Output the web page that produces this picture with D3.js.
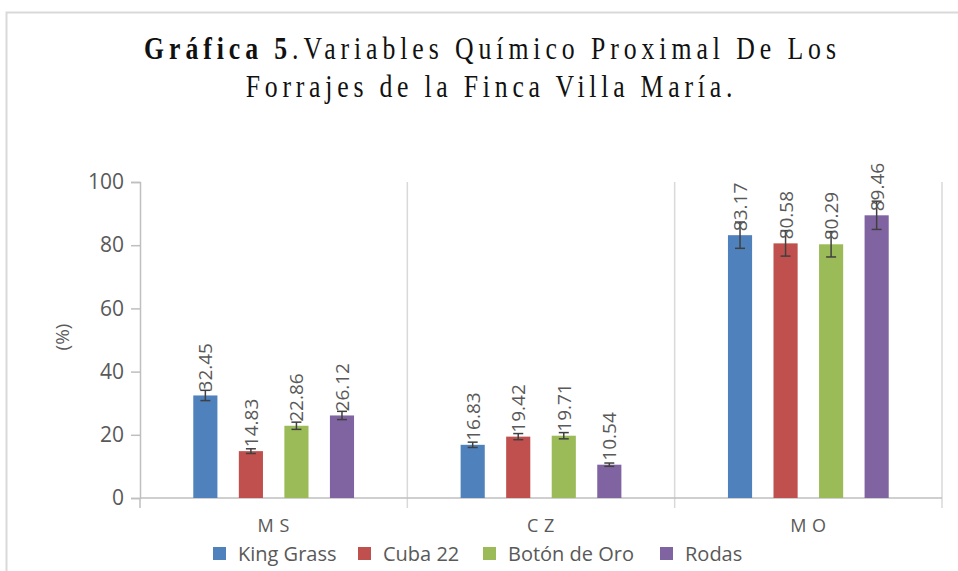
<!DOCTYPE html>
<html>
<head>
<meta charset="utf-8">
<script src="https://cdn.jsdelivr.net/npm/d3@7"></script>
<style>
  body { margin: 0; background: #fff; }
  svg { display: block; }
</style>
</head>
<body>
<div id="chart"></div>
<script>
// data
const categories = ["MS", "CZ", "MO"];
const catLabels = ["M S", "C Z", "M O"];
const series = ["King Grass", "Cuba 22", "Botón de Oro", "Rodas"];
const kingGrass = [32.45, 16.83, 83.17];
const cuba22 = [14.83, 19.42, 80.58];
const botonDeOro = [22.86, 19.71, 80.29];
const rodas = [26.12, 10.54, 89.46];
const yTicks = [0, 20, 40, 60, 80, 100];
const errPct = 0.05; // 5% error bars

const colours = ["#4f81bd", "#c0504d", "#9bbb59", "#8064a2"];
const values = [kingGrass, cuba22, botonDeOro, rodas];

const width = 958;
const height = 571;

const svg = d3.select("#chart").append("svg")
  .attr("width", width)
  .attr("height", height);

// outer chart border
svg.append("rect")
  .attr("x", 6.5).attr("y", 12.5)
  .attr("width", 1000).attr("height", 700)
  .attr("fill", "none")
  .attr("stroke", "#d9d9d9")
  .attr("stroke-width", 2);

// title
const title = svg.append("g").attr("font-family", "'Liberation Serif', 'Times New Roman', serif")
  .attr("fill", "#111");
const t1 = title.append("g").attr("transform", "translate(490,59) scale(0.92,1.12)")
  .append("text")
  .attr("text-anchor", "middle")
  .attr("font-size", 28)
  .attr("textLength", 752)
  .attr("lengthAdjust", "spacing");
t1.append("tspan").attr("font-weight", "bold").text("Gráfica 5");
t1.append("tspan").text(".Variables Químico Proximal De Los");
title.append("g").attr("transform", "translate(489,97) scale(0.92,1.12)")
  .append("text")
  .attr("text-anchor", "middle")
  .attr("font-size", 28)
  .attr("textLength", 529)
  .attr("lengthAdjust", "spacing")
  .text("Forrajes de la Finca Villa María.");

const x0 = d3.scaleBand().domain(categories).range([140, 942]);
const x1 = d3.scaleBand().domain(series).range([0, x0.bandwidth()]).paddingInner(0.47).paddingOuter(1.17);
const y = d3.scaleLinear().domain([0, 100]).range([498, 182]);

const grey = "#595959";
const axisCol = "#bfbfbf";
const sans = "'Open Sans', 'Liberation Sans', sans-serif";

// y axis
const yAxis = svg.append("g")
  .attr("transform", "translate(140,0)")
  .call(d3.axisLeft(y).tickValues(yTicks).tickSize(9).tickPadding(7));
yAxis.select(".domain").attr("stroke", axisCol).attr("stroke-width", 1.5);
yAxis.selectAll(".tick line").attr("stroke", axisCol).attr("stroke-width", 1.5);
yAxis.selectAll(".tick text")
  .attr("fill", grey)
  .attr("font-family", sans)
  .attr("font-size", 21);

// category separators
svg.append("g").selectAll("line")
  .data(categories.slice(1).concat(["end"]))
  .join("line")
  .attr("x1", (d, i) => x0.range()[0] + x0.bandwidth() * (i + 1))
  .attr("x2", (d, i) => x0.range()[0] + x0.bandwidth() * (i + 1))
  .attr("y1", y(100))
  .attr("y2", 508)
  .attr("stroke", "#d9d9d9")
  .attr("stroke-width", 1.5);

// baseline
svg.append("line")
  .attr("x1", 140).attr("x2", 942)
  .attr("y1", y(0)).attr("y2", y(0))
  .attr("stroke", axisCol).attr("stroke-width", 1.5);
svg.append("line")
  .attr("x1", 140).attr("x2", 140)
  .attr("y1", y(0)).attr("y2", 508)
  .attr("stroke", axisCol).attr("stroke-width", 1.5);

// category labels
svg.append("g").selectAll("text")
  .data(categories)
  .join("text")
  .attr("x", d => x0(d) + x0.bandwidth() / 2)
  .attr("y", 532)
  .attr("text-anchor", "middle")
  .attr("fill", grey)
  .attr("font-family", sans)
  .attr("font-size", 18)
  .attr("letter-spacing", 0.5)
  .text((d, i) => catLabels[i]);

// y label
svg.append("text")
  .attr("transform", "translate(69,337) rotate(-90)")
  .attr("text-anchor", "middle")
  .attr("fill", grey)
  .attr("font-family", sans)
  .attr("font-size", 19)
  .text("(%)");

// bars
const rows = [];
categories.forEach((c, ci) => {
  series.forEach((s, si) => {
    rows.push({ cat: c, ser: s, si: si, v: values[si][ci] });
  });
});

const bars = svg.append("g");
bars.selectAll("rect")
  .data(rows)
  .join("rect")
  .attr("x", d => x0(d.cat) + x1(d.ser))
  .attr("y", d => y(d.v))
  .attr("width", x1.bandwidth())
  .attr("height", d => y(0) - y(d.v))
  .attr("fill", d => colours[d.si]);

// error bars
const err = svg.append("g").attr("stroke", "#404040").attr("stroke-width", 1.5);
rows.forEach(d => {
  const cx = x0(d.cat) + x1(d.ser) + x1.bandwidth() / 2;
  const lo = y(d.v * (1 - errPct));
  const hi = y(d.v * (1 + errPct));
  err.append("line").attr("x1", cx).attr("x2", cx).attr("y1", lo).attr("y2", hi);
  err.append("line").attr("x1", cx - 5).attr("x2", cx + 5).attr("y1", lo).attr("y2", lo);
  err.append("line").attr("x1", cx - 5).attr("x2", cx + 5).attr("y1", hi).attr("y2", hi);
});

// data labels
svg.append("g").selectAll("text")
  .data(rows)
  .join("text")
  .attr("transform", d => {
    const cx = x0(d.cat) + x1(d.ser) + x1.bandwidth() / 2;
    return `translate(${cx + 7},${y(d.v) - 4}) rotate(-90)`;
  })
  .attr("fill", grey)
  .attr("font-family", sans)
  .attr("font-size", 19)
  .text(d => d.v.toFixed(2));

// legend
const legend = svg.append("g")
  .attr("font-family", sans)
  .attr("font-size", 20)
  .attr("fill", grey);
const legendX = [213, 358, 483, 660];
series.forEach((s, i) => {
  legend.append("rect")
    .attr("x", legendX[i]).attr("y", 547)
    .attr("width", 13).attr("height", 13)
    .attr("fill", colours[i]);
  legend.append("text")
    .attr("x", legendX[i] + 25).attr("y", 561)
    .text(s);
});
</script>
</body>
</html>
